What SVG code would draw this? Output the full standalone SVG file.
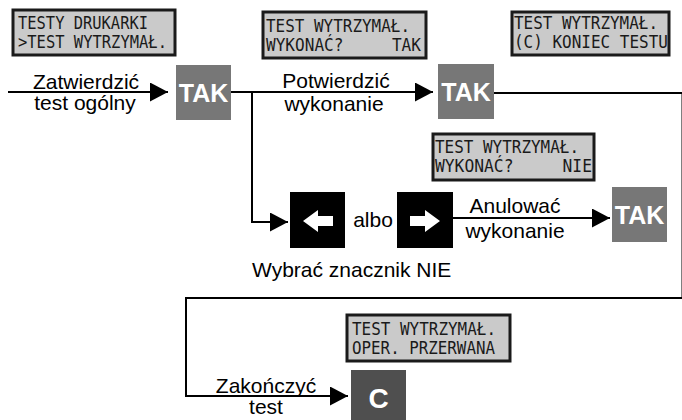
<svg xmlns="http://www.w3.org/2000/svg" width="682" height="420" viewBox="0 0 682 420">
<style>
.lcd rect{fill:#cacaca;stroke:#1a1a1a;stroke-width:3}
.lcd text{font-family:"DejaVu Sans Mono","Liberation Mono",monospace;font-size:17px;fill:#1a1a1a;white-space:pre}
.lbl{font-family:"Liberation Sans",Arial,sans-serif;font-size:21px;fill:#000}
.mid{text-anchor:middle}
.tak rect{fill:#777777}
.tak text{font-family:"Liberation Sans",Arial,sans-serif;font-weight:bold;font-size:25px;fill:#fff;text-anchor:middle}
.ckey rect{fill:#4f4f4f}
.ckey text{font-family:"Liberation Sans",Arial,sans-serif;font-weight:bold;font-size:28px;fill:#fff;text-anchor:middle}
.key rect{fill:#000}
.key polygon{fill:#fff}
.conn path{fill:none;stroke:#000;stroke-width:2}
</style>
<defs>
<marker id="ah" markerUnits="userSpaceOnUse" markerWidth="18" markerHeight="19" refX="18" refY="9.5" orient="auto">
<path d="M0,0 L18,9.5 L0,19 z" fill="#000"/>
</marker>
</defs>
<rect width="682" height="420" fill="#fff"/>

<g class="conn">
<path d="M8,92 H168" marker-end="url(#ah)"/>
<path d="M231,92 H433" marker-end="url(#ah)"/>
<path d="M252,92 V222 H288" marker-end="url(#ah)"/>
<path d="M453,218 H610" marker-end="url(#ah)"/>
<path d="M494,93 H682.5 V298 H186 V396 H348" marker-end="url(#ah)"/>
</g>

<g id="lcd1" class="lcd">
<rect x="13" y="10" width="162" height="45"/>
<text x="18" y="28.5" textLength="130" lengthAdjust="spacingAndGlyphs">TESTY DRUKARKI</text>
<text x="18" y="47.5" textLength="149" lengthAdjust="spacingAndGlyphs">&gt;TEST WYTRZYMAŁ.</text>
</g>
<g id="lcd2" class="lcd">
<rect x="263" y="12" width="163" height="46"/>
<text x="266" y="31.5" textLength="144" lengthAdjust="spacingAndGlyphs">TEST WYTRZYMAŁ.</text>
<text x="266" y="50.5" textLength="155" lengthAdjust="spacingAndGlyphs" xml:space="preserve">WYKONAĆ?     TAK</text>
</g>
<g id="lcd3" class="lcd">
<rect x="512" y="12" width="157" height="43"/>
<text x="514" y="28.5" textLength="144" lengthAdjust="spacingAndGlyphs">TEST WYTRZYMAŁ.</text>
<text x="514" y="48" textLength="154" lengthAdjust="spacingAndGlyphs">(C) KONIEC TESTU</text>
</g>
<g id="lcd4" class="lcd">
<rect x="433" y="134" width="161" height="46"/>
<text x="435" y="152.5" textLength="144" lengthAdjust="spacingAndGlyphs">TEST WYTRZYMAŁ.</text>
<text x="435" y="171.5" textLength="157" lengthAdjust="spacingAndGlyphs" xml:space="preserve">WYKONAĆ?     NIE</text>
</g>
<g id="lcd5" class="lcd">
<rect x="347" y="315" width="163" height="46"/>
<text x="352" y="334.5" textLength="144" lengthAdjust="spacingAndGlyphs">TEST WYTRZYMAŁ.</text>
<text x="352" y="353.5" textLength="143" lengthAdjust="spacingAndGlyphs">OPER. PRZERWANA</text>
</g>

<g id="tak1" class="tak"><rect x="176" y="65" width="55" height="55"/><text x="203.5" y="102">TAK</text></g>
<g id="tak2" class="tak"><rect x="438" y="64" width="56" height="55"/><text x="466" y="101">TAK</text></g>
<g id="tak3" class="tak"><rect x="612" y="187" width="55" height="55"/><text x="639.5" y="224">TAK</text></g>
<g id="ckey" class="ckey"><rect x="351" y="370" width="55" height="56"/><text x="378.5" y="408">C</text></g>

<g id="keyLeft" class="key">
<rect x="290" y="192" width="55" height="56"/>
<polygon points="303,221 318,210 318,216 333,216 333,226 318,226 318,232"/>
</g>
<g id="keyRight" class="key">
<rect x="397" y="192" width="56" height="56"/>
<polygon points="440,221 425,210 425,216 410,216 410,226 425,226 425,232"/>
</g>

<g id="labels">
<text class="lbl mid" x="86" y="89">Zatwierdzić</text>
<text class="lbl mid" x="85" y="110">test ogólny</text>
<text class="lbl mid" x="336" y="88">Potwierdzić</text>
<text class="lbl mid" x="334" y="111">wykonanie</text>
<text class="lbl mid" x="373" y="227">albo</text>
<text class="lbl mid" x="515" y="213">Anulować</text>
<text class="lbl mid" x="515" y="238">wykonanie</text>
<text class="lbl" x="252" y="277">Wybrać znacznik NIE</text>
<text class="lbl mid" x="266" y="393">Zakończyć</text>
<text class="lbl mid" x="266" y="414">test</text>
</g>
</svg>
